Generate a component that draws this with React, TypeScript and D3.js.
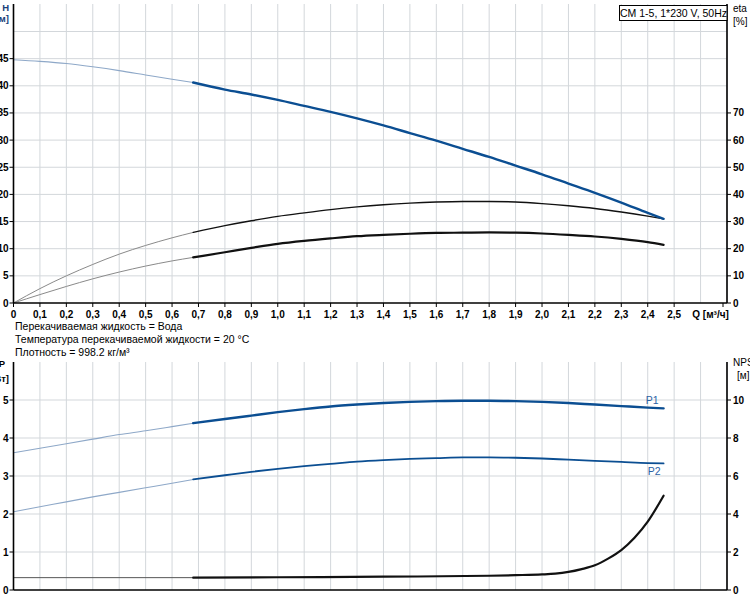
import * as d3 from 'd3'

// flow points (m³/h) shared by H, eta and P curves
const flow = [0, 0.1, 0.2, 0.3, 0.4, 0.5, 0.6, 0.68, 0.8, 0.9, 1.0, 1.1, 1.2, 1.3, 1.4, 1.5, 1.6, 1.7, 1.8, 1.9, 2.0, 2.1, 2.2, 2.3, 2.4, 2.46]
const head = [44.8, 44.5, 44.1, 43.5, 42.8, 42.0, 41.2, 40.6, 39.3, 38.4, 37.4, 36.3, 35.2, 34.0, 32.7, 31.3, 29.9, 28.4, 26.9, 25.3, 23.7, 22.0, 20.3, 18.5, 16.6, 15.5]
const etaPump = [0, 5.3, 10.0, 14.2, 18.0, 21.2, 24.0, 26.0, 28.5, 30.3, 31.9, 33.2, 34.4, 35.4, 36.2, 36.8, 37.2, 37.4, 37.4, 37.2, 36.6, 35.8, 34.8, 33.5, 32.0, 31.0]
const etaTotal = [0, 3.1, 6.1, 8.9, 11.4, 13.6, 15.5, 16.8, 18.7, 20.3, 21.8, 22.9, 23.8, 24.6, 25.1, 25.5, 25.8, 25.9, 26.0, 25.9, 25.6, 25.1, 24.5, 23.6, 22.4, 21.4]
const p1 = [3.61, 3.73, 3.85, 3.97, 4.09, 4.19, 4.30, 4.39, 4.50, 4.59, 4.68, 4.76, 4.83, 4.88, 4.92, 4.95, 4.97, 4.98, 4.98, 4.97, 4.95, 4.92, 4.88, 4.84, 4.80, 4.78]
const p2 = [2.06, 2.19, 2.32, 2.45, 2.57, 2.69, 2.81, 2.91, 3.02, 3.11, 3.19, 3.26, 3.32, 3.38, 3.42, 3.45, 3.47, 3.49, 3.49, 3.48, 3.46, 3.43, 3.40, 3.37, 3.34, 3.33]
const npshFlow = [0, 0.68, 1.0, 1.4, 1.8, 1.9, 2.0, 2.05, 2.1, 2.15, 2.2, 2.25, 2.3, 2.35, 2.4, 2.46]
const npsh = [0.65, 0.65, 0.67, 0.70, 0.75, 0.78, 0.82, 0.86, 0.95, 1.1, 1.3, 1.65, 2.1, 2.75, 3.6, 4.96]

const qTickLabels = ['0', '0,1', '0,2', '0,3', '0,4', '0,5', '0,6', '0,7', '0,8', '0,9', '1,0', '1,1', '1,2', '1,3', '1,4', '1,5', '1,6', '1,7', '1,8', '1,9', '2,0', '2,1', '2,2', '2,3', '2,4', '2,5']
const hTicks = [0, 5, 10, 15, 20, 25, 30, 35, 40, 45]
const etaTicks = [0, 10, 20, 30, 40, 50, 60, 70]
const pTicks = [0, 1, 2, 3, 4, 5]
const npshTicks = [0, 2, 4, 6, 8, 10]

const SPLIT = 0.68 // below this the curves are drawn thin (outside duty range)

const W = 750
const H = 600
const left = 13.5
const right = 727
const topY0 = 303
const botY0 = 590

const x = d3.scaleLinear().domain([0, 2.7]).range([left, right])
const yH = d3.scaleLinear().domain([0, 50]).range([topY0, 31.5])
const yEta = d3.scaleLinear().domain([0, 100]).range([topY0, 31.5])
const yP = d3.scaleLinear().domain([0, 6]).range([botY0, 362])
const yN = d3.scaleLinear().domain([0, 12]).range([botY0, 362])

const gridColor = '#d3d7db'
const blue = '#0b4e92'
const lightBlue = '#8ea8c8'
const font = 'Liberation Sans, Arial, sans-serif'

type Pt = [number, number]

const pairs = (qs: number[], vs: number[]): Pt[] => qs.map((q, i) => [q, vs[i]])

function Curve({qs, vs, y, color, width, thinColor, thinWidth}: {
  qs: number[], vs: number[], y: d3.ScaleLinear<number, number>,
  color: string, width: number, thinColor: string, thinWidth: number
}) {
  const pts = pairs(qs, vs)
  const line = d3.line<Pt>().x(d => x(d[0])).y(d => y(d[1])).curve(d3.curveMonotoneX)
  const low = pts.filter(d => d[0] <= SPLIT)
  const high = pts.filter(d => d[0] >= SPLIT)
  return (
    <g fill="none" strokeLinecap="round">
      <path d={line(low) ?? ''} stroke={thinColor} strokeWidth={thinWidth} />
      <path d={line(high) ?? ''} stroke={color} strokeWidth={width} />
    </g>
  )
}

export default function App() {
  const qGrid = d3.range(1, 28).map(i => i / 10)
  const tickStyle = {fontFamily: font, fontSize: 10, fontWeight: 700, fill: '#000'} as const
  const textStyle = {fontFamily: font, fontSize: 10.5, fill: '#000'} as const

  return (
    <svg width={W} height={H} style={{position: 'absolute', left: 0, top: 0, background: '#fff'}}>
      {/* ---------- top chart: H and eta ---------- */}
      <g stroke={gridColor} strokeWidth={1}>
        {qGrid.map(q => (
          <line key={'tv' + q} x1={x(q)} x2={x(q)} y1={4} y2={topY0} />
        ))}
        {d3.range(5, 55, 5).map(h => (
          <line key={'th' + h} x1={left} x2={right} y1={yH(h)} y2={yH(h)} />
        ))}
      </g>

      <Curve qs={flow} vs={etaPump} y={yEta} color="#111" width={1.4} thinColor="#8a8a8a" thinWidth={1} />
      <Curve qs={flow} vs={etaTotal} y={yEta} color="#111" width={2.2} thinColor="#8a8a8a" thinWidth={1} />
      <Curve qs={flow} vs={head} y={yH} color={blue} width={2.4} thinColor={lightBlue} thinWidth={1.1} />

      <g stroke="#000" strokeWidth={1.6}>
        <line x1={left} x2={left} y1={4} y2={topY0} />
        <line x1={left} x2={right} y1={topY0} y2={topY0} />
        <line x1={right} x2={right} y1={4} y2={topY0} />
      </g>
      {hTicks.map(h => (
        <g key={'ht' + h}>
          <line x1={left - 4} x2={left} y1={yH(h)} y2={yH(h)} stroke="#000" />
          <text x={left - 5} y={yH(h) + 3.5} textAnchor="end" style={tickStyle}>{h}</text>
        </g>
      ))}
      <text x={9} y={11} textAnchor="end" style={{...textStyle, fontSize: 9.5, fontWeight: 700, fill: '#1a3f7a'}}>H</text>
      <text x={9} y={22} textAnchor="end" style={{...textStyle, fontSize: 9.5, fontWeight: 700, fill: '#1a3f7a'}}>[м]</text>

      {etaTicks.map(e => (
        <g key={'et' + e}>
          <line x1={right} x2={right + 4} y1={yEta(e)} y2={yEta(e)} stroke="#000" />
          <text x={right + 6} y={yEta(e) + 3.5} style={tickStyle}>{e}</text>
        </g>
      ))}
      <text x={733} y={12} style={{...textStyle, fontSize: 10}}>eta</text>
      <text x={733} y={25} style={{...textStyle, fontSize: 10}}>[%]</text>

      {qTickLabels.map((lab, i) => (
        <g key={'qt' + i}>
          <line x1={x(i / 10)} x2={x(i / 10)} y1={topY0} y2={topY0 + 4} stroke="#000" />
          <text x={x(i / 10)} y={318} textAnchor="middle" style={tickStyle}>{lab}</text>
        </g>
      ))}
      <line x1={x(2.7) - 4} x2={x(2.7) - 4} y1={topY0} y2={topY0 + 4} stroke="#000" />
      <text x={x(2.6) + 10} y={318} textAnchor="middle" style={tickStyle}>Q [м³/ч]</text>

      <rect x={619.5} y={5.5} width={right - 619.5} height={15} fill="#fff" stroke="#000" strokeWidth={1} />
      <text x={673.5} y={16.5} textAnchor="middle" style={{...textStyle, fontSize: 10.5}}>CM 1-5, 1*230 V, 50Hz</text>

      {/* ---------- medium info ---------- */}
      <text x={15} y={330} style={textStyle}>Перекачиваемая жидкость = Вода</text>
      <text x={15} y={343} style={textStyle}>Температура перекачиваемой жидкости = 20 °C</text>
      <text x={15} y={356} style={textStyle}>Плотность = 998.2 кг/м³</text>

      {/* ---------- bottom chart: P1, P2, NPSH ---------- */}
      <g stroke={gridColor} strokeWidth={1}>
        {qGrid.map(q => (
          <line key={'bv' + q} x1={x(q)} x2={x(q)} y1={362} y2={botY0} />
        ))}
        {pTicks.slice(1).map(p => (
          <line key={'bh' + p} x1={left} x2={right} y1={yP(p)} y2={yP(p)} />
        ))}
      </g>

      <Curve qs={npshFlow} vs={npsh} y={yN} color="#111" width={2.2} thinColor="#555" thinWidth={1} />
      <Curve qs={flow} vs={p2} y={yP} color={blue} width={1.8} thinColor={lightBlue} thinWidth={1.1} />
      <Curve qs={flow} vs={p1} y={yP} color={blue} width={2.4} thinColor={lightBlue} thinWidth={1.1} />
      <text x={x(2.46) - 5} y={yP(p1[p1.length - 1]) - 4} textAnchor="end" style={{...textStyle, fill: '#2c62a6'}}>P1</text>
      <text x={x(2.46) - 3} y={yP(p2[p2.length - 1]) + 12} textAnchor="end" style={{...textStyle, fill: '#2c62a6'}}>P2</text>

      <g stroke="#000" strokeWidth={1.6}>
        <line x1={left} x2={left} y1={362} y2={botY0} />
        <line x1={left} x2={right} y1={botY0} y2={botY0} />
        <line x1={right} x2={right} y1={362} y2={botY0} />
      </g>
      {pTicks.map(p => (
        <g key={'pt' + p}>
          <line x1={left - 4} x2={left} y1={yP(p)} y2={yP(p)} stroke="#000" />
          <text x={left - 5} y={yP(p) + 3.5} textAnchor="end" style={tickStyle}>{p}</text>
        </g>
      ))}
      <text x={5} y={367} textAnchor="end" style={{...textStyle, fontSize: 9.5, fontWeight: 700}}>P</text>
      <text x={9} y={382} textAnchor="end" style={{...textStyle, fontSize: 9.5, fontWeight: 700}}>[кВт]</text>

      {npshTicks.map(n => (
        <g key={'nt' + n}>
          <line x1={right} x2={right + 4} y1={yN(n)} y2={yN(n)} stroke="#000" />
          <text x={right + 6} y={yN(n) + 3.5} style={tickStyle}>{n}</text>
        </g>
      ))}
      <text x={733} y={366} style={{...textStyle, fontSize: 10}}>NPSH</text>
      <text x={737} y={379} style={{...textStyle, fontSize: 10}}>[м]</text>
    </svg>
  )
}
